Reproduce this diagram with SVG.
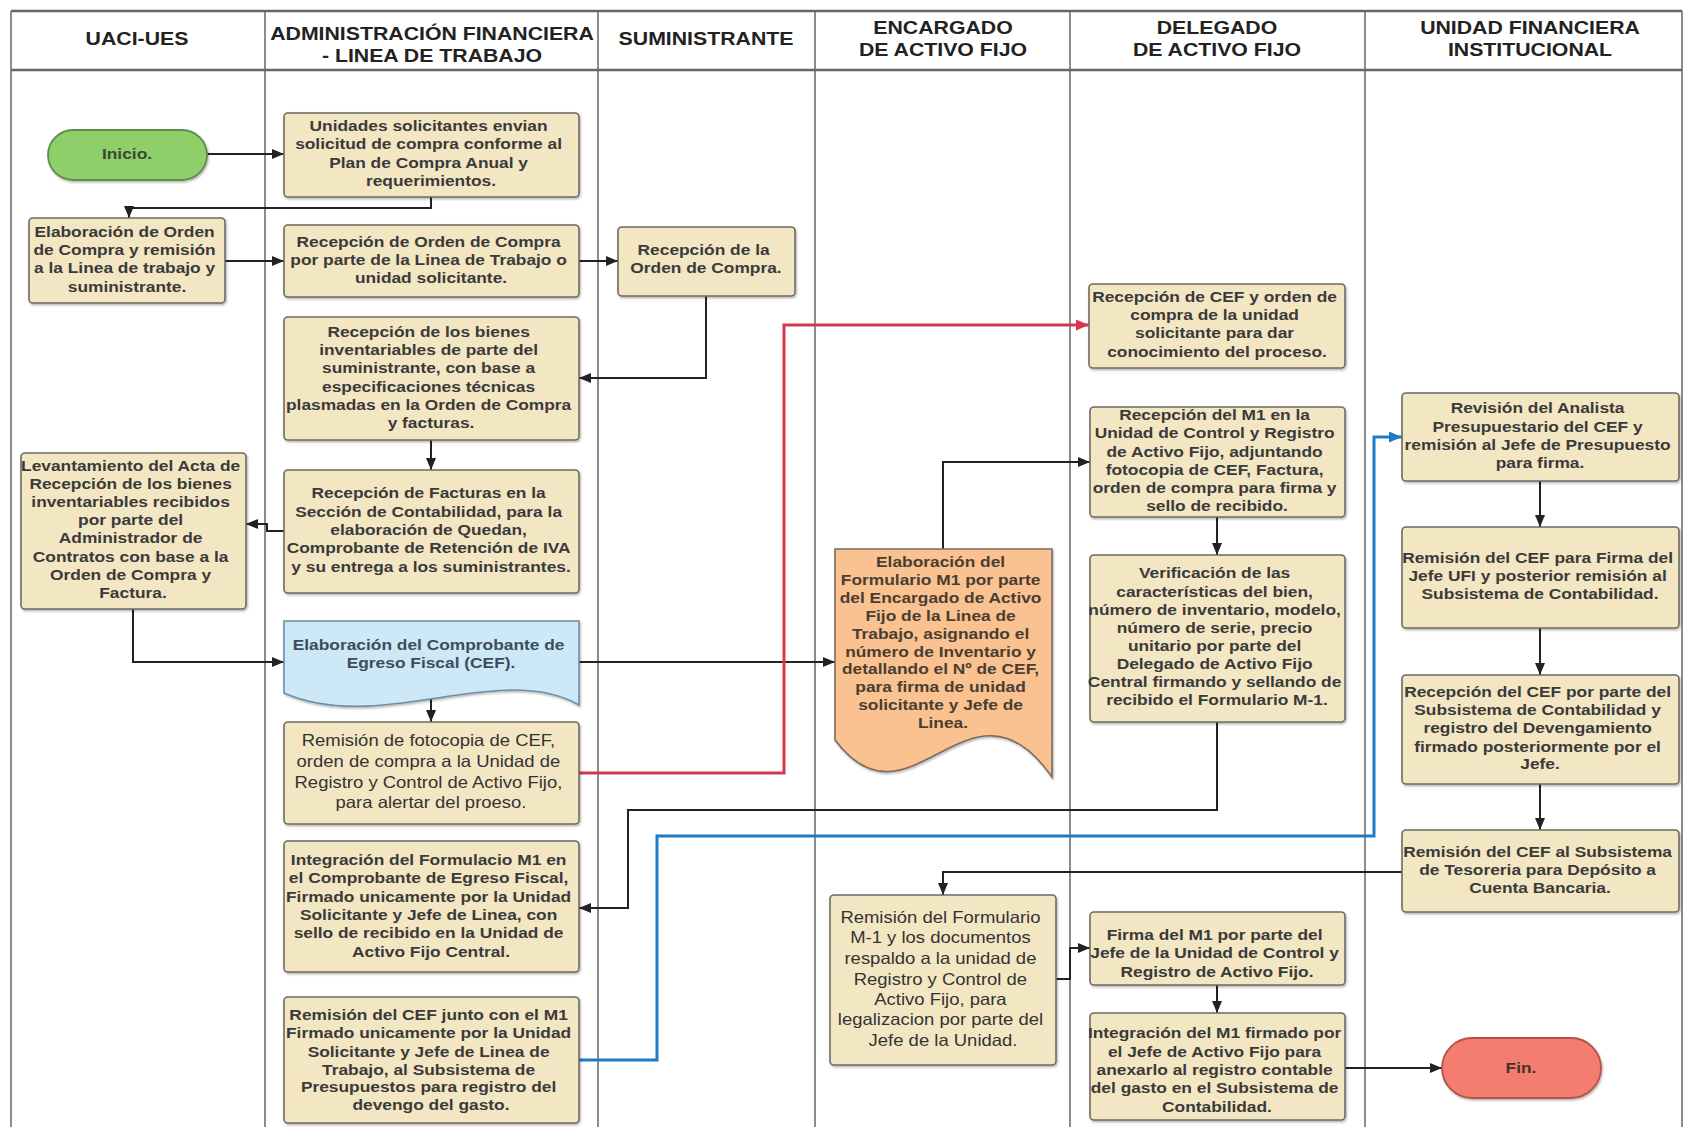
<svg xmlns="http://www.w3.org/2000/svg" width="1684" height="1127" viewBox="0 0 1684 1127">
  <defs>
    <style>
      .lane { stroke:#8c8c8c; stroke-width:2; fill:none; }
      .hline { stroke:#666; stroke-width:2.5; fill:none; }
      .hdr { font-family:"Liberation Sans", Arial, sans-serif; font-weight:bold; font-size:19px; fill:#222; text-anchor:middle; }
      .box { fill:#f3e6c3; stroke:#6f6b62; stroke-width:1.6; filter:url(#sh); }
      .start { fill:#8fcf6a; stroke:#5f8c48; stroke-width:1.8; filter:url(#sh); }
      .end { fill:#f47d72; stroke:#b5524a; stroke-width:1.8; filter:url(#sh); }
      .doc-blue { fill:#cde9f8; stroke:#6f8ea3; stroke-width:1.6; filter:url(#sh); }
      .doc-orange { fill:#f9c290; stroke:#7e6c5c; stroke-width:1.6; filter:url(#sh); }
      .t { font-family:"Liberation Sans", Arial, sans-serif; font-weight:bold; font-size:15.5px; fill:#3a3a3a; text-anchor:middle; }
      .tr { font-family:"Liberation Sans", Arial, sans-serif; font-weight:normal; font-size:16.5px; fill:#333; text-anchor:middle; }
      .conn { fill:none; stroke:#222; stroke-width:2; marker-end:url(#ah); }
      .red { fill:none; stroke:#d2394a; stroke-width:3; marker-end:url(#ahr); }
      .blue { fill:none; stroke:#1f7cc4; stroke-width:3; marker-end:url(#ahb); }
    </style>
    <filter id="sh" x="-5%" y="-5%" width="115%" height="115%">
      <feDropShadow dx="1" dy="1.5" stdDeviation="1" flood-color="#000" flood-opacity="0.3"/>
    </filter>
    <marker id="ah" markerUnits="userSpaceOnUse" markerWidth="12" markerHeight="10" refX="12" refY="5" orient="auto">
      <path d="M0,0 L12,5 L0,10 z" fill="#222"/>
    </marker>
    <marker id="ahr" markerUnits="userSpaceOnUse" markerWidth="13" markerHeight="11" refX="13" refY="5.5" orient="auto">
      <path d="M0,0 L13,5.5 L0,11 z" fill="#d2394a"/>
    </marker>
    <marker id="ahb" markerUnits="userSpaceOnUse" markerWidth="13" markerHeight="11" refX="13" refY="5.5" orient="auto">
      <path d="M0,0 L13,5.5 L0,11 z" fill="#1f7cc4"/>
    </marker>
  </defs>

  <rect x="0" y="0" width="1684" height="1127" fill="#fff"/>

  <!-- swimlane frame -->
  <g id="lanes">
    <line class="lane" x1="11" y1="11" x2="11" y2="1127"/>
    <line class="lane" x1="265" y1="11" x2="265" y2="1127"/>
    <line class="lane" x1="598" y1="11" x2="598" y2="1127"/>
    <line class="lane" x1="815" y1="11" x2="815" y2="1127"/>
    <line class="lane" x1="1070" y1="11" x2="1070" y2="1127"/>
    <line class="lane" x1="1365" y1="11" x2="1365" y2="1127"/>
    <line class="lane" x1="1682" y1="11" x2="1682" y2="1127"/>
    <line class="hline" x1="11" y1="11" x2="1682" y2="11"/>
    <line class="hline" x1="11" y1="70" x2="1682" y2="70"/>
  </g>

  <g id="headers">
    <g transform="translate(137 0) scale(1.12 1)"><text class="hdr"><tspan x="0" y="45">UACI-UES</tspan></text></g>
    <g transform="translate(432 0) scale(1.12 1)"><text class="hdr"><tspan x="0" y="40">ADMINISTRACIÓN FINANCIERA</tspan><tspan x="0" y="62">- LINEA DE TRABAJO</tspan></text></g>
    <g transform="translate(706 0) scale(1.12 1)"><text class="hdr"><tspan x="0" y="45">SUMINISTRANTE</tspan></text></g>
    <g transform="translate(943 0) scale(1.12 1)"><text class="hdr"><tspan x="0" y="34">ENCARGADO</tspan><tspan x="0" y="56">DE ACTIVO FIJO</tspan></text></g>
    <g transform="translate(1217 0) scale(1.12 1)"><text class="hdr"><tspan x="0" y="34">DELEGADO</tspan><tspan x="0" y="56">DE ACTIVO FIJO</tspan></text></g>
    <g transform="translate(1530 0) scale(1.12 1)"><text class="hdr"><tspan x="0" y="34">UNIDAD FINANCIERA</tspan><tspan x="0" y="56">INSTITUCIONAL</tspan></text></g>
  </g>

  <!-- connectors -->
  <g id="connectors">
    <path class="conn" d="M207,154 H284"/>
    <path class="conn" d="M431,197 V208 H129 V218"/>
    <path class="conn" d="M225,261 H284"/>
    <path class="conn" d="M579,261 H618"/>
    <path class="conn" d="M706,296 V378 H579"/>
    <path class="conn" d="M431,440 V470"/>
    <path class="conn" d="M284,531 H267 V524 H246"/>
    <path class="conn" d="M133,609 V662 H284"/>
    <path class="conn" d="M431,698 V722"/>
    <path class="conn" d="M579,662 H835"/>
    <path class="red" d="M579,773 H784 V325 H1089"/>
    <path class="conn" d="M943,549 V462 H1090"/>
    <path class="conn" d="M1217,517 V555"/>
    <path class="conn" d="M1217,722 V810 H628 V908 H579"/>
    <path class="blue" d="M579,1060 H657 V836 H1374 V437 H1402"/>
    <path class="conn" d="M1540,481 V527"/>
    <path class="conn" d="M1540,628 V675"/>
    <path class="conn" d="M1540,784 V830"/>
    <path class="conn" d="M1402,872 H943 V895"/>
    <path class="conn" d="M1056,979 H1070 V948 H1090"/>
    <path class="conn" d="M1217,985 V1013"/>
    <path class="conn" d="M1345,1068 H1442"/>
  </g>

  <!-- UACI-UES lane -->
  <g id="inicio">
    <rect class="start" x="48" y="130" width="159" height="50" rx="25"/>
    <g transform="translate(127 0) scale(1.12 1)"><text class="t" style="fill:#3b4a2f"><tspan x="0" y="159">Inicio.</tspan></text></g>
  </g>

  <g id="elaboracion-orden">
    <rect class="box" x="29" y="218" width="196" height="85" rx="4"/>
    <g transform="translate(127 0) scale(1.12 1)"><text class="t">
      <tspan x="0" y="237">Elaboración de Orden</tspan>
      <tspan x="0" y="255">de Compra y remisión</tspan>
      <tspan x="0" y="273">a la Linea de trabajo y</tspan>
      <tspan x="0" y="292">suministrante.</tspan>
    </text></g>
  </g>

  <g id="levantamiento-acta">
    <rect class="box" x="21" y="453" width="225" height="156" rx="4"/>
    <g transform="translate(133 0) scale(1.12 1)"><text class="t">
      <tspan x="0" y="471">Levantamiento del Acta de</tspan>
      <tspan x="0" y="489">Recepción de los bienes</tspan>
      <tspan x="0" y="507">inventariables recibidos</tspan>
      <tspan x="0" y="525">por parte del</tspan>
      <tspan x="0" y="543">Administrador de</tspan>
      <tspan x="0" y="562">Contratos con base a la</tspan>
      <tspan x="0" y="580">Orden de Compra y</tspan>
      <tspan x="0" y="598">Factura.</tspan>
    </text></g>
  </g>

  <!-- Administración financiera lane -->
  <g id="solicitud-compra">
    <rect class="box" x="284" y="113" width="295" height="84" rx="4"/>
    <g transform="translate(431 0) scale(1.12 1)"><text class="t">
      <tspan x="0" y="131">Unidades solicitantes envian</tspan>
      <tspan x="0" y="149">solicitud de compra conforme al</tspan>
      <tspan x="0" y="168">Plan de Compra Anual y</tspan>
      <tspan x="0" y="186">requerimientos.</tspan>
    </text></g>
  </g>

  <g id="recepcion-orden">
    <rect class="box" x="284" y="225" width="295" height="72" rx="4"/>
    <g transform="translate(431 0) scale(1.12 1)"><text class="t">
      <tspan x="0" y="247">Recepción de Orden de Compra</tspan>
      <tspan x="0" y="265">por parte de la Linea de Trabajo o</tspan>
      <tspan x="0" y="283">unidad solicitante.</tspan>
    </text></g>
  </g>

  <g id="recepcion-bienes">
    <rect class="box" x="284" y="317" width="295" height="123" rx="4"/>
    <g transform="translate(431 0) scale(1.12 1)"><text class="t">
      <tspan x="0" y="337">Recepción de los bienes</tspan>
      <tspan x="0" y="355">inventariables de parte del</tspan>
      <tspan x="0" y="373">suministrante, con base a</tspan>
      <tspan x="0" y="392">especificaciones técnicas</tspan>
      <tspan x="0" y="410">plasmadas en la Orden de Compra</tspan>
      <tspan x="0" y="428">y facturas.</tspan>
    </text></g>
  </g>

  <g id="recepcion-facturas">
    <rect class="box" x="284" y="470" width="295" height="123" rx="4"/>
    <g transform="translate(431 0) scale(1.12 1)"><text class="t">
      <tspan x="0" y="498">Recepción de Facturas en la</tspan>
      <tspan x="0" y="517">Sección de Contabilidad, para la</tspan>
      <tspan x="0" y="535">elaboración de Quedan,</tspan>
      <tspan x="0" y="553">Comprobante de Retención de IVA</tspan>
      <tspan x="0" y="572">y su entrega a los suministrantes.</tspan>
    </text></g>
  </g>

  <g id="cef">
    <path class="doc-blue" d="M284,621 H579 V705 C500,660 380,735 284,693 Z"/>
    <g transform="translate(431 0) scale(1.12 1)"><text class="t" style="fill:#3d4d5a">
      <tspan x="0" y="650">Elaboración del Comprobante de</tspan>
      <tspan x="0" y="668">Egreso Fiscal (CEF).</tspan>
    </text></g>
  </g>

  <g id="remision-fotocopia">
    <rect class="box" x="284" y="722" width="295" height="102" rx="4"/>
    <g transform="translate(431 0) scale(1.12 1)"><text class="tr">
      <tspan x="0" y="746">Remisión de fotocopia de CEF,</tspan>
      <tspan x="0" y="767">orden de compra a la Unidad de</tspan>
      <tspan x="0" y="788">Registro y Control de Activo Fijo,</tspan>
      <tspan x="0" y="808">para alertar del proeso.</tspan>
    </text></g>
  </g>

  <g id="integracion-formulario">
    <rect class="box" x="284" y="841" width="295" height="131" rx="4"/>
    <g transform="translate(431 0) scale(1.12 1)"><text class="t">
      <tspan x="0" y="865">Integración del Formulacio M1 en</tspan>
      <tspan x="0" y="883">el Comprobante de Egreso Fiscal,</tspan>
      <tspan x="0" y="902">Firmado unicamente por la Unidad</tspan>
      <tspan x="0" y="920">Solicitante y Jefe de Linea, con</tspan>
      <tspan x="0" y="938">sello de recibido en la Unidad de</tspan>
      <tspan x="0" y="957">Activo Fijo Central.</tspan>
    </text></g>
  </g>

  <g id="remision-cef-m1">
    <rect class="box" x="284" y="997" width="295" height="126" rx="4"/>
    <g transform="translate(431 0) scale(1.12 1)"><text class="t">
      <tspan x="0" y="1020">Remisión del CEF junto con el M1</tspan>
      <tspan x="0" y="1038">Firmado unicamente por la Unidad</tspan>
      <tspan x="0" y="1057">Solicitante y Jefe de Linea de</tspan>
      <tspan x="0" y="1075">Trabajo, al Subsistema de</tspan>
      <tspan x="0" y="1092">Presupuestos para registro del</tspan>
      <tspan x="0" y="1110">devengo del gasto.</tspan>
    </text></g>
  </g>

  <!-- Suministrante lane -->
  <g id="recepcion-orden-suministrante">
    <rect class="box" x="618" y="227" width="177" height="69" rx="4"/>
    <g transform="translate(706 0) scale(1.12 1)"><text class="t">
      <tspan x="0" y="255">Recepción de la</tspan>
      <tspan x="0" y="273">Orden de Compra.</tspan>
    </text></g>
  </g>

  <!-- Encargado de activo fijo lane -->
  <g id="formulario-m1">
    <path class="doc-orange" d="M835,549 H1052 V777 C970,660 910,840 835,740 Z"/>
    <g transform="translate(943 0) scale(1.12 1)"><text class="t" style="fill:#4a3d31">
      <tspan x="0" y="567">Elaboración del</tspan>
      <tspan x="0" y="585">Formulario M1 por parte</tspan>
      <tspan x="0" y="603">del Encargado de Activo</tspan>
      <tspan x="0" y="621">Fijo de la Linea de</tspan>
      <tspan x="0" y="639">Trabajo, asignando el</tspan>
      <tspan x="0" y="657">número de Inventario y</tspan>
      <tspan x="0" y="674">detallando el Nº de CEF,</tspan>
      <tspan x="0" y="692">para firma de unidad</tspan>
      <tspan x="0" y="710">solicitante y Jefe de</tspan>
      <tspan x="0" y="728">Linea.</tspan>
    </text></g>
  </g>

  <g id="remision-formulario-m1">
    <rect class="box" x="830" y="895" width="226" height="170" rx="4"/>
    <g transform="translate(943 0) scale(1.12 1)"><text class="tr">
      <tspan x="0" y="923">Remisión del Formulario</tspan>
      <tspan x="0" y="943">M-1 y los documentos</tspan>
      <tspan x="0" y="964">respaldo a la unidad de</tspan>
      <tspan x="0" y="985">Registro y Control de</tspan>
      <tspan x="0" y="1005">Activo Fijo, para</tspan>
      <tspan x="0" y="1025">legalizacion por parte del</tspan>
      <tspan x="0" y="1046">Jefe de la Unidad.</tspan>
    </text></g>
  </g>

  <!-- Delegado de activo fijo lane -->
  <g id="recepcion-cef-orden">
    <rect class="box" x="1089" y="284" width="256" height="84" rx="4"/>
    <g transform="translate(1217 0) scale(1.12 1)"><text class="t">
      <tspan x="0" y="302">Recepción de CEF y orden de</tspan>
      <tspan x="0" y="320">compra de la unidad</tspan>
      <tspan x="0" y="338">solicitante para dar</tspan>
      <tspan x="0" y="357">conocimiento del proceso.</tspan>
    </text></g>
  </g>

  <g id="recepcion-m1">
    <rect class="box" x="1090" y="407" width="255" height="110" rx="4"/>
    <g transform="translate(1217 0) scale(1.12 1)"><text class="t">
      <tspan x="0" y="420">Recepción del M1 en la</tspan>
      <tspan x="0" y="438">Unidad de Control y Registro</tspan>
      <tspan x="0" y="457">de Activo Fijo, adjuntando</tspan>
      <tspan x="0" y="475">fotocopia de CEF, Factura,</tspan>
      <tspan x="0" y="493">orden de compra para firma y</tspan>
      <tspan x="0" y="511">sello de recibido.</tspan>
    </text></g>
  </g>

  <g id="verificacion">
    <rect class="box" x="1090" y="555" width="255" height="167" rx="4"/>
    <g transform="translate(1217 0) scale(1.12 1)"><text class="t">
      <tspan x="0" y="578">Verificación de las</tspan>
      <tspan x="0" y="597">características del bien,</tspan>
      <tspan x="0" y="615">número de inventario, modelo,</tspan>
      <tspan x="0" y="633">número de serie, precio</tspan>
      <tspan x="0" y="651">unitario por parte del</tspan>
      <tspan x="0" y="669">Delegado de Activo Fijo</tspan>
      <tspan x="0" y="687">Central firmando y sellando de</tspan>
      <tspan x="0" y="705">recibido el Formulario M-1.</tspan>
    </text></g>
  </g>

  <g id="firma-m1">
    <rect class="box" x="1090" y="912" width="255" height="73" rx="4"/>
    <g transform="translate(1217 0) scale(1.12 1)"><text class="t">
      <tspan x="0" y="940">Firma del M1 por parte del</tspan>
      <tspan x="0" y="958">Jefe de la Unidad de Control y</tspan>
      <tspan x="0" y="977">Registro de Activo Fijo.</tspan>
    </text></g>
  </g>

  <g id="integracion-m1">
    <rect class="box" x="1090" y="1013" width="255" height="107" rx="4"/>
    <g transform="translate(1217 0) scale(1.12 1)"><text class="t">
      <tspan x="0" y="1038">Integración del M1 firmado por</tspan>
      <tspan x="0" y="1057">el Jefe de Activo Fijo para</tspan>
      <tspan x="0" y="1075">anexarlo al registro contable</tspan>
      <tspan x="0" y="1093">del gasto en el Subsistema de</tspan>
      <tspan x="0" y="1112">Contabilidad.</tspan>
    </text></g>
  </g>

  <!-- Unidad financiera institucional lane -->
  <g id="revision-analista">
    <rect class="box" x="1402" y="393" width="277" height="88" rx="4"/>
    <g transform="translate(1540 0) scale(1.12 1)"><text class="t">
      <tspan x="0" y="413">Revisión del Analista</tspan>
      <tspan x="0" y="432">Presupuestario del CEF y</tspan>
      <tspan x="0" y="450">remisión al Jefe de Presupuesto</tspan>
      <tspan x="0" y="468">para firma.</tspan>
    </text></g>
  </g>

  <g id="firma-jefe-ufi">
    <rect class="box" x="1402" y="527" width="277" height="101" rx="4"/>
    <g transform="translate(1540 0) scale(1.12 1)"><text class="t">
      <tspan x="0" y="563">Remisión del CEF para Firma del</tspan>
      <tspan x="0" y="581">Jefe UFI y posterior remisión al</tspan>
      <tspan x="0" y="599">Subsistema de Contabilidad.</tspan>
    </text></g>
  </g>

  <g id="recepcion-contabilidad">
    <rect class="box" x="1402" y="675" width="277" height="109" rx="4"/>
    <g transform="translate(1540 0) scale(1.12 1)"><text class="t">
      <tspan x="0" y="697">Recepción del CEF por parte del</tspan>
      <tspan x="0" y="715">Subsistema de Contabilidad y</tspan>
      <tspan x="0" y="733">registro del Devengamiento</tspan>
      <tspan x="0" y="752">firmado posteriormente por el</tspan>
      <tspan x="0" y="769">Jefe.</tspan>
    </text></g>
  </g>

  <g id="remision-tesoreria">
    <rect class="box" x="1402" y="830" width="277" height="82" rx="4"/>
    <g transform="translate(1540 0) scale(1.12 1)"><text class="t">
      <tspan x="0" y="857">Remisión del CEF al Subsistema</tspan>
      <tspan x="0" y="875">de Tesoreria para Depósito a</tspan>
      <tspan x="0" y="893">Cuenta Bancaria.</tspan>
    </text></g>
  </g>

  <g id="fin">
    <rect class="end" x="1442" y="1038" width="159" height="60" rx="30"/>
    <g transform="translate(1521 0) scale(1.12 1)"><text class="t" style="fill:#4a2e2b"><tspan x="0" y="1073">Fin.</tspan></text></g>
  </g>
</svg>
